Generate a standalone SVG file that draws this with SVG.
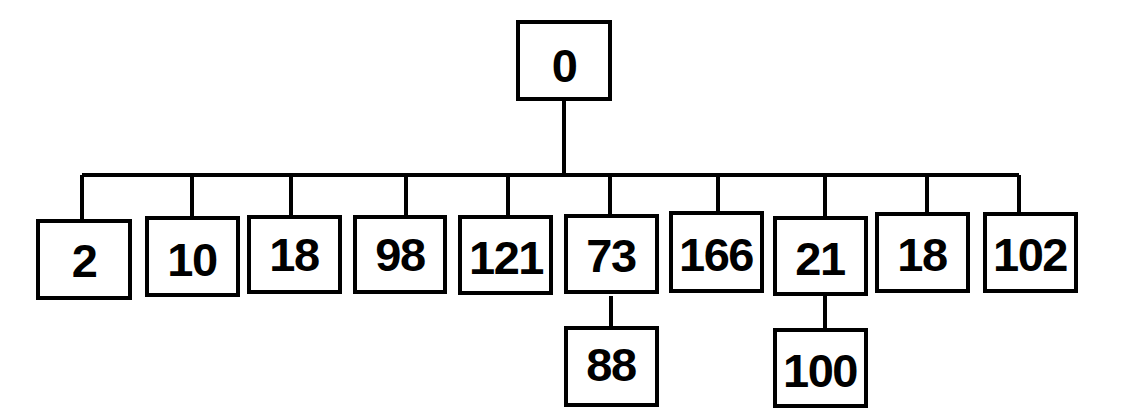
<svg xmlns="http://www.w3.org/2000/svg" width="1132" height="420" viewBox="0 0 1132 420">
<style>
rect{fill:#fff;stroke:#000;stroke-width:4}
text{font-family:"Liberation Sans",Arial,sans-serif;font-weight:bold;font-size:47px;letter-spacing:-1.5px;text-anchor:middle;fill:#000}
#connectors path{fill:none;stroke:#000;stroke-width:4}
</style>
<rect x="0" y="0" width="1132" height="420" style="stroke:none"/>
<g id="connectors">
<path d="M564 99V175M82 175H1019M82 175V221M192 175V218M291 175V217M406 175V217M508 175V217M610 175V216M718 175V213M825 175V218M927 175V214M1019 175V214M611 296V328M825 294V330"/>
</g>
<g id="n0"><rect x="518" y="22" width="92" height="77"/><text x="564" y="82">0</text></g>
<g id="n2"><rect x="38" y="221" width="92" height="77"/><text x="84" y="277">2</text></g>
<g id="n10"><rect x="147" y="218" width="91" height="77"/><text x="192" y="276">10</text></g>
<g id="n18a"><rect x="249" y="217" width="91" height="75"/><text x="294" y="271">18</text></g>
<g id="n98"><rect x="355" y="217" width="90" height="75"/><text x="400" y="271">98</text></g>
<g id="n121"><rect x="460" y="217" width="91" height="76"/><text x="506" y="274">121</text></g>
<g id="n73"><rect x="566" y="216" width="91" height="76"/><text x="611" y="272">73</text></g>
<g id="n166"><rect x="671" y="213" width="91" height="78"/><text x="716" y="271">166</text></g>
<g id="n21"><rect x="775" y="218" width="91" height="76"/><text x="820" y="275">21</text></g>
<g id="n18b"><rect x="877" y="214" width="91" height="77"/><text x="922" y="271">18</text></g>
<g id="n102"><rect x="985" y="214" width="91" height="77"/><text x="1030" y="271">102</text></g>
<g id="n88"><rect x="566" y="328" width="91" height="77"/><text x="611" y="381">88</text></g>
<g id="n100"><rect x="775" y="330" width="91" height="76"/><text x="820" y="387">100</text></g>
</svg>
